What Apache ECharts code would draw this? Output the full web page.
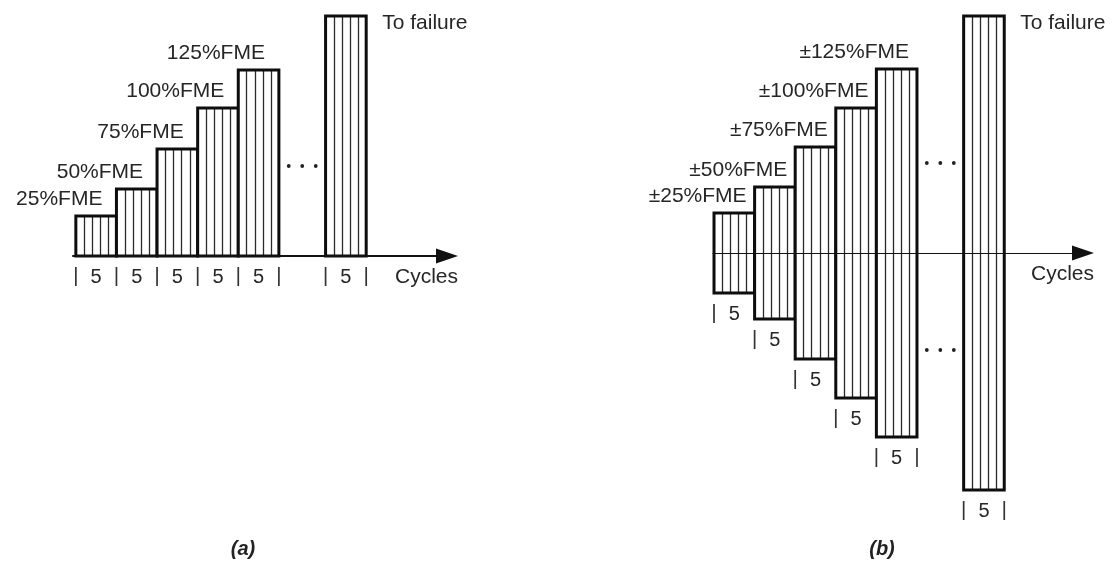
<!DOCTYPE html>
<html>
<head>
<meta charset="utf-8">
<script src="https://cdn.jsdelivr.net/npm/echarts@6/dist/echarts.min.js"></script>
<style>
  html, body { margin: 0; padding: 0; background: #fff; }
  #chart { width: 1114px; height: 563px; }
</style>
</head>
<body>
<div id="chart"></div>
<script>
// Loading protocol: each step is a block of 5 cycles at a given amplitude.
const blockStart = [0, 1, 2, 3, 4, 6.15];     // block position along the cycle axis
const cycles = [5, 5, 5, 5, 5, 5];             // cycles per step
const ampA = [40, 67, 107, 148, 186, 240];     // monotonic steps (a)
const ampB = [40, 66, 106, 145, 184, 237];     // reversed steps (b), drawn ± about zero
const labelsA = ['25%FME', '50%FME', '75%FME', '100%FME', '125%FME', 'To failure'];
const labelsB = ['±25%FME', '±50%FME', '±75%FME', '±100%FME', '±125%FME', 'To failure'];
const captions = ['(a)', '(b)'];
const axisName = 'Cycles';

const FONT = '"Liberation Sans", Arial, Helvetica, sans-serif';
const TEXT = '#262626';
const DOT_LEVEL_UP = 90;     // height of the "..." marks above the axis
const DOT_LEVEL_DOWN = 97;   // depth of the lower "..." marks in (b)

function makeRender(labels, symmetric, labelDx) {
  return function (params, api) {
    const i = params.dataIndex;
    const start = api.value(0);
    const amp = api.value(1);
    const tl = api.coord([start, amp]);
    const br = api.coord([start + 1, symmetric ? -amp : 0]);
    const axisY = api.coord([start, 0])[1];
    const x0 = tl[0], y0 = tl[1], x1 = br[0], y1 = br[1];
    const w = x1 - x0, h = y1 - y0;
    const children = [];

    // white body with vertical hatching
    children.push({ type: 'rect', shape: { x: x0, y: y0, width: w, height: h },
      style: { fill: '#fff', stroke: null } });
    for (let k = 1; k < 5; k++) {
      const hx = Math.round(x0 + w * k / 5) + 0.5;
      children.push({ type: 'line', shape: { x1: hx, y1: y0, x2: hx, y2: y1 },
        style: { stroke: '#2a2a2a', lineWidth: 1.3 } });
    }
    children.push({ type: 'rect', shape: { x: x0, y: y0, width: w, height: h },
      style: { fill: null, stroke: '#0d0d0d', lineWidth: 3 } });

    // "| 5 |" cycle-count marks under each block
    const base = symmetric ? y1 : axisY;
    const tickStyle = { stroke: '#333', lineWidth: 1.7 };
    children.push({ type: 'line', shape: { x1: x0, y1: base + 11, x2: x0, y2: base + 30 }, style: tickStyle });
    const last = i === blockStart.length - 1;
    const gapAfter = !last && blockStart[i + 1] !== blockStart[i] + 1;
    if (last || gapAfter) {
      children.push({ type: 'line', shape: { x1: x1, y1: base + 11, x2: x1, y2: base + 30 }, style: tickStyle });
    }
    children.push({ type: 'text', style: { x: (x0 + x1) / 2, y: base + 21, text: String(cycles[i]),
      align: 'center', verticalAlign: 'middle', font: '20px ' + FONT, fill: TEXT } });

    // amplitude label
    if (last) {
      children.push({ type: 'text', style: { x: x1 + 16, y: y0 + 7, text: labels[i],
        align: 'left', verticalAlign: 'middle', font: '21px ' + FONT, fill: TEXT } });
    } else {
      children.push({ type: 'text', style: { x: x1 - labelDx, y: y0 - 17, text: labels[i],
        align: 'right', verticalAlign: 'middle', font: '21px ' + FONT, fill: TEXT } });
    }

    // ellipsis in the gap before the final block
    if (gapAfter) {
      const gx = (x1 + api.coord([blockStart[i + 1], 0])[0]) / 2;
      const levels = symmetric ? [axisY - DOT_LEVEL_UP, axisY + DOT_LEVEL_DOWN] : [axisY - DOT_LEVEL_UP];
      levels.forEach(function (ly) {
        [-13.5, 0, 13.5].forEach(function (d) {
          children.push({ type: 'circle', shape: { cx: gx + d, cy: ly, r: 1.9 }, style: { fill: '#222' } });
        });
      });
    }
    return { type: 'group', children: children };
  };
}

function axisCommon(min, max, lineWidth) {
  return {
    type: 'value', min: min, max: max, z: 10,
    axisTick: { show: false }, axisLabel: { show: false }, splitLine: { show: false },
    axisLine: { show: true, onZero: true, symbol: ['none', 'triangle'], symbolSize: [15, 22],
      lineStyle: { color: '#111', width: lineWidth } },
    name: axisName, nameLocation: 'end', nameGap: 11,
    nameTextStyle: { align: 'right', verticalAlign: 'top', padding: [11, 0, 0, 0],
      fontFamily: FONT, fontSize: 21, color: TEXT }
  };
}

const chart = echarts.init(document.getElementById('chart'));
chart.setOption({
  backgroundColor: '#fff',
  animation: false,
  grid: [
    { left: 73, top: 16, width: 374, height: 240 },
    { left: 713, top: 13, width: 370, height: 480 }
  ],
  xAxis: [
    Object.assign(axisCommon(-0.07, 9.14, 2), { gridIndex: 0 }),
    Object.assign(axisCommon(-0.025, 9.09, 1.2), { gridIndex: 1 })
  ],
  yAxis: [
    { gridIndex: 0, type: 'value', min: 0, max: 240, show: false },
    { gridIndex: 1, type: 'value', min: -240, max: 240, show: false }
  ],
  series: [
    { type: 'custom', xAxisIndex: 0, yAxisIndex: 0, clip: false,
      renderItem: makeRender(labelsA, false, 14),
      data: blockStart.map(function (s, i) { return [s, ampA[i]]; }) },
    { type: 'custom', xAxisIndex: 1, yAxisIndex: 1, clip: false,
      renderItem: makeRender(labelsB, true, 8),
      data: blockStart.map(function (s, i) { return [s, ampB[i]]; }) }
  ],
  graphic: [
    { type: 'text', x: 243, y: 549, style: { text: captions[0], align: 'center', verticalAlign: 'middle',
      font: 'italic bold 20px ' + FONT, fill: '#222' } },
    { type: 'text', x: 882, y: 549, style: { text: captions[1], align: 'center', verticalAlign: 'middle',
      font: 'italic bold 20px ' + FONT, fill: '#222' } }
  ]
});
</script>
</body>
</html>
